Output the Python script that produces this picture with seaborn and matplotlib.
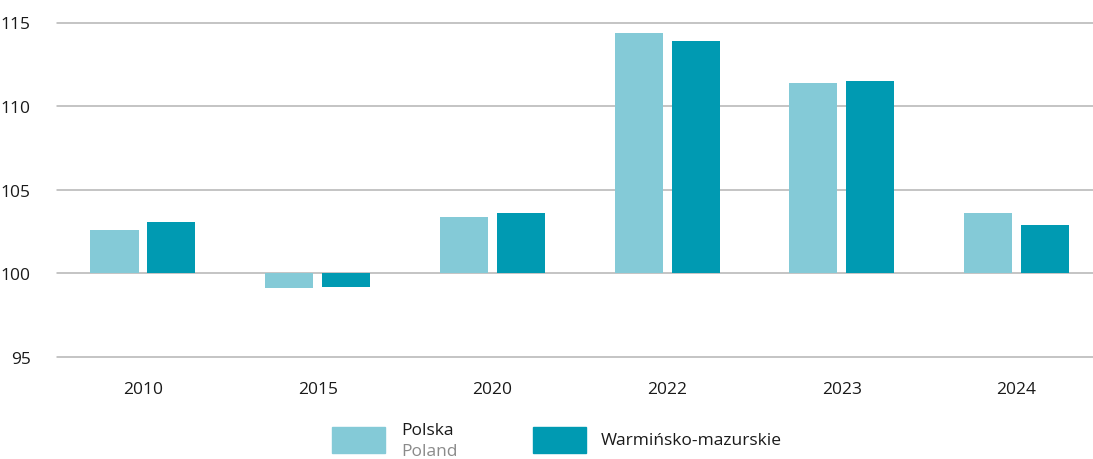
import numpy as np
import pandas as pd
import matplotlib
matplotlib.use("Agg")
import matplotlib.pyplot as plt
from matplotlib.patches import Rectangle
import seaborn as sns

# data (index, base = 100)
years = ["2010", "2015", "2020", "2022", "2023", "2024"]
polska = [102.6, 99.1, 103.4, 114.4, 111.4, 103.6]
warminsko = [103.1, 99.2, 103.6, 113.9, 111.5, 102.9]
series_names = ["Polska", "Warmińsko-mazurskie"]
yticks = [95, 100, 105, 110, 115]

BASE = 100
LIGHT = "#84CAD7"
DARK = "#009AB2"

df = pd.DataFrame({
    "year": years * 2,
    "series": [series_names[0]] * len(years) + [series_names[1]] * len(years),
    "value": polska + warminsko,
})
df["height"] = df["value"] - BASE

sns.set_theme(style="white")
plt.rcParams["font.family"] = ["Open Sans", "DejaVu Sans"]

fig = plt.figure(figsize=(10.93, 4.60), dpi=100)
ax = fig.add_axes([57 / 1093, 1 - 358 / 460, 1 - 57 / 1093, (358 - 23.5) / 460])

sns.barplot(
    data=df, x="year", y="height", hue="series", order=years,
    hue_order=series_names, palette=[LIGHT, DARK], saturation=1,
    width=0.652, gap=0.156, errorbar=None, bottom=BASE,
    linewidth=0, legend=False, ax=ax, zorder=3,
)

ax.set_ylim(95, 115)
ax.set_xlim(-0.492, 5.438)
ax.set_yticks(yticks)
ax.set_yticklabels([str(t) for t in yticks])
ax.yaxis.grid(True, color="#b4b4b4", linewidth=1.1, zorder=0)
ax.xaxis.grid(False)
for line in ax.get_ygridlines():
    line.set_clip_on(False)
for s in ax.spines.values():
    s.set_visible(False)
ax.tick_params(axis="both", length=0, labelsize=12.5, colors="#1a1a1a")
ax.tick_params(axis="y", pad=19)
ax.tick_params(axis="x", pad=17)
ax.set_xlabel("")
ax.set_ylabel("")

# legend drawn by hand (second language line in gray)
W, H = 1093, 460
fig.patches.append(Rectangle((332 / W, 1 - 454 / H), 53 / W, 26 / H,
                             transform=fig.transFigure, color=LIGHT, zorder=5))
fig.patches.append(Rectangle((533 / W, 1 - 454 / H), 53 / W, 26 / H,
                             transform=fig.transFigure, color=DARK, zorder=5))
fig.text(401 / W, 1 - 431 / H, "Polska", fontsize=12.5, color="#1a1a1a", va="center")
fig.text(401 / W, 1 - 452 / H, "Poland", fontsize=12.5, color="#8a8a8a", va="center")
fig.text(601 / W, 1 - 441 / H, "Warmińsko-mazurskie", fontsize=12.5, color="#1a1a1a", va="center")

fig.savefig("out.png", dpi=100)
